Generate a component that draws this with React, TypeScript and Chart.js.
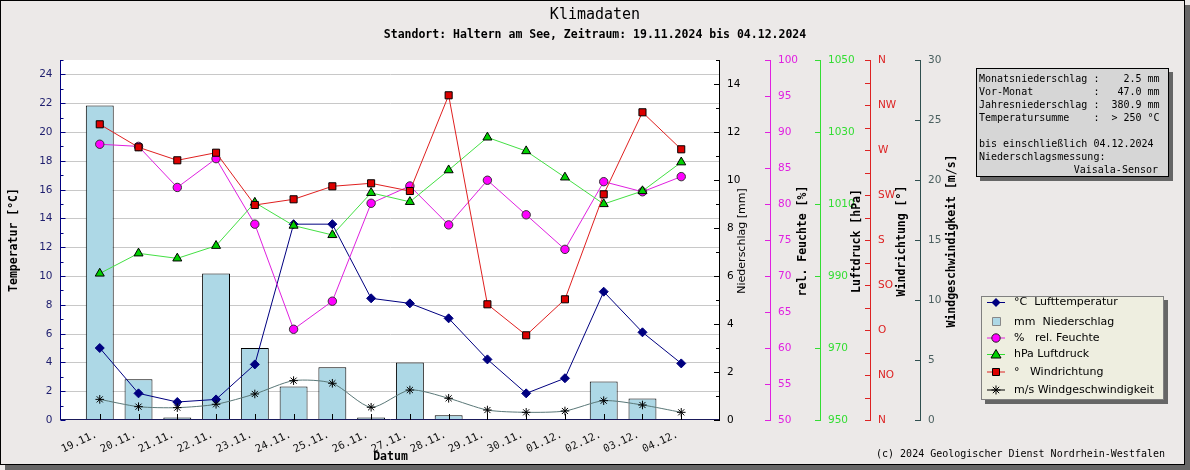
import React, { useEffect, useRef } from 'react';
import { Chart, registerables } from 'chart.js';

Chart.register(...registerables);

// ---------- data ----------
const dates = ['19.11.', '20.11.', '21.11.', '22.11.', '23.11.', '24.11.', '25.11.', '26.11.', '27.11.', '28.11.', '29.11.', '30.11.', '01.12.', '02.12.', '03.12.', '04.12.'];
const temperature = [5.0, 1.85, 1.25, 1.43, 3.86, 13.6, 13.6, 8.45, 8.1, 7.06, 4.21, 1.85, 2.9, 8.91, 6.09, 3.93];
const precipitation = [13.1, 1.7, 0.1, 6.1, 3.0, 1.4, 2.2, 0.1, 2.4, 0.2, 0, 0, 0, 1.6, 0.9, 0];
const humidity = [88.3, 88.0, 82.3, 86.3, 77.2, 62.6, 66.5, 80.1, 82.5, 77.1, 83.3, 78.5, 73.7, 83.1, 81.7, 83.8];
const pressure = [990.7, 996.3, 994.9, 998.4, 1010.4, 1004.0, 1001.4, 1013.1, 1010.6, 1019.4, 1028.5, 1024.7, 1017.4, 1010.0, 1013.6, 1021.6];
const windDirection = [295.7, 272.7, 259.7, 267.3, 215, 220.7, 233.7, 236.7, 229, 324.7, 115.7, 84.7, 120.7, 225.7, 307.7, 270.7];
const windSpeed = [1.72, 1.11, 1.03, 1.31, 2.17, 3.28, 3.06, 1.06, 2.5, 1.81, 0.83, 0.64, 0.75, 1.61, 1.25, 0.64];

// ---------- tick labels ----------
const tempTicks = [0, 2, 4, 6, 8, 10, 12, 14, 16, 18, 20, 22, 24];
const precipTicks = [0, 2, 4, 6, 8, 10, 12, 14];
const humidityTicks = [50, 55, 60, 65, 70, 75, 80, 85, 90, 95, 100];
const pressureTicks = [950, 970, 990, 1010, 1030, 1050];
const windDirLabels = ['N', 'NO', 'O', 'SO', 'S', 'SW', 'W', 'NW', 'N'];
const windSpeedTicks = [0, 5, 10, 15, 20, 25, 30];

// ---------- texts ----------
const titleText = 'Klimadaten';
const subtitleText = 'Standort: Haltern am See, Zeitraum: 19.11.2024 bis 04.12.2024';
const xTitle = 'Datum';
const copyright = '(c) 2024 Geologischer Dienst Nordrhein-Westfalen';
const legendLabels = ['°C  Lufttemperatur', 'mm  Niederschlag', '%   rel. Feuchte', 'hPa Luftdruck', '°   Windrichtung', 'm/s Windgeschwindigkeit'];
const infoLines = [
  'Monatsniederschlag :    2.5 mm',
  'Vor-Monat          :   47.0 mm',
  'Jahresniederschlag :  380.9 mm',
  'Temperatursumme    :  > 250 °C',
  '',
  'bis einschließlich 04.12.2024',
  'Niederschlagsmessung:',
];
const infoLastLine = 'Vaisala-Sensor';

const SANS = '"DejaVu Sans", sans-serif';
const MONO = '"DejaVu Sans Mono", monospace';

const C_TEMP = '#000080';
const C_HUM = '#E020E0';
const C_PRESS = '#33DD33';
const C_DIR = '#DD2222';
const C_SPEED = '#2F4F4F';

const pad = (a: (number | null)[]) => [null, ...a, null];

function line(ctx: CanvasRenderingContext2D, x1: number, y1: number, x2: number, y2: number) {
  ctx.beginPath();
  ctx.moveTo(x1, y1);
  ctx.lineTo(x2, y2);
  ctx.stroke();
}

function vText(ctx: CanvasRenderingContext2D, text: string, x: number, y: number, font: string, color: string) {
  ctx.save();
  ctx.translate(x, y);
  ctx.rotate(-Math.PI / 2);
  ctx.font = font;
  ctx.fillStyle = color;
  ctx.textAlign = 'center';
  ctx.textBaseline = 'middle';
  ctx.fillText(text, 0, 0);
  ctx.restore();
}

function rightAxis(ctx: CanvasRenderingContext2D, chart: any, scale: any, x: number, color: string, labelColor: string,
  ticks: { v: number; len: number; label: string | null }[]) {
  const a = chart.chartArea;
  ctx.strokeStyle = color;
  ctx.lineWidth = 1;
  line(ctx, x + 0.5, a.top, x + 0.5, a.bottom + 1);
  ctx.font = '10.5px ' + SANS;
  ctx.fillStyle = labelColor;
  ctx.textAlign = 'left';
  ctx.textBaseline = 'middle';
  for (const t of ticks) {
    const y = Math.round(scale.getPixelForValue(t.v)) + 0.5;
    line(ctx, x - t.len, y, x + 0.5, y);
    if (t.label !== null) ctx.fillText(t.label, x + 8, y);
  }
}

function marker(ctx: CanvasRenderingContext2D, type: string, x: number, y: number) {
  ctx.save();
  ctx.lineWidth = 1;
  ctx.beginPath();
  if (type === 'diamond') {
    ctx.moveTo(x, y - 4.5); ctx.lineTo(x + 4.5, y); ctx.lineTo(x, y + 4.5); ctx.lineTo(x - 4.5, y); ctx.closePath();
    ctx.fillStyle = C_TEMP; ctx.fill();
  } else if (type === 'bar') {
    ctx.rect(992.5, y - 4.5, 8, 8);
    ctx.fillStyle = '#ADD8E6'; ctx.fill(); ctx.strokeStyle = '#888'; ctx.stroke();
  } else if (type === 'circle') {
    ctx.arc(x, y, 4.2, 0, Math.PI * 2);
    ctx.fillStyle = '#FF00FF'; ctx.fill(); ctx.strokeStyle = '#222'; ctx.stroke();
  } else if (type === 'triangle') {
    ctx.moveTo(x, y - 5); ctx.lineTo(x + 5, y + 3.5); ctx.lineTo(x - 5, y + 3.5); ctx.closePath();
    ctx.fillStyle = '#00D000'; ctx.fill(); ctx.strokeStyle = '#000'; ctx.stroke();
  } else if (type === 'square') {
    ctx.rect(x - 3.5, y - 3.5, 7, 7);
    ctx.fillStyle = '#DD0000'; ctx.fill(); ctx.strokeStyle = '#000'; ctx.stroke();
  } else if (type === 'star') {
    ctx.strokeStyle = '#000';
    const r = 4.5, d = r * Math.SQRT1_2;
    ctx.moveTo(x - r, y); ctx.lineTo(x + r, y);
    ctx.moveTo(x, y - r); ctx.lineTo(x, y + r);
    ctx.moveTo(x - d, y - d); ctx.lineTo(x + d, y + d);
    ctx.moveTo(x - d, y + d); ctx.lineTo(x + d, y - d);
    ctx.stroke();
  }
  ctx.restore();
}

const decor = {
  id: 'decor',
  beforeDraw(chart: any) {
    const ctx: CanvasRenderingContext2D = chart.ctx;
    const a = chart.chartArea;
    ctx.save();
    ctx.fillStyle = '#ECE9E8';
    ctx.fillRect(0, 0, chart.width, chart.height);
    ctx.fillStyle = '#666666';
    ctx.fillRect(1185, 5, 5, 465);
    ctx.fillRect(5, 465, 1185, 5);
    ctx.strokeStyle = '#000';
    ctx.lineWidth = 1;
    ctx.strokeRect(0.5, 0.5, 1184, 464);
    ctx.fillStyle = '#FFFFFF';
    ctx.fillRect(a.left, a.top, a.right - a.left, a.bottom - a.top);
    const yT = chart.scales.yT;
    ctx.strokeStyle = '#C8C8C8';
    for (const v of tempTicks) {
      if (v === 0) continue;
      const y = Math.round(yT.getPixelForValue(v)) + 0.5;
      line(ctx, a.left, y, a.right, y);
    }
    ctx.restore();
  },
  afterDraw(chart: any) {
    const ctx: CanvasRenderingContext2D = chart.ctx;
    const a = chart.chartArea;
    const s = chart.scales;
    ctx.save();

    // titles
    ctx.fillStyle = '#000';
    ctx.textAlign = 'center';
    ctx.textBaseline = 'middle';
    ctx.font = '15px ' + MONO;
    ctx.fillText(titleText, 595, 15);
    ctx.font = 'bold 11.5px ' + MONO;
    ctx.fillText(subtitleText, 595, 35);
    ctx.fillText(xTitle, (a.left + a.right) / 2, 457);
    ctx.font = '10px ' + MONO;
    ctx.textAlign = 'right';
    ctx.fillText(copyright, 1165, 454.5);

    // left axis (temperature)
    const ax = a.left - 0.5;
    ctx.strokeStyle = C_TEMP;
    ctx.lineWidth = 1;
    line(ctx, ax, a.top, ax, a.bottom);
    for (let v = 0; v <= 25; v++) {
      const y = Math.round(s.yT.getPixelForValue(v)) + 0.5;
      line(ctx, ax, y, ax + (v % 2 === 0 ? 5 : 3), y);
    }
    ctx.font = '10.5px ' + SANS;
    ctx.fillStyle = '#1E1E6E';
    ctx.textAlign = 'right';
    ctx.textBaseline = 'middle';
    for (const v of tempTicks) {
      ctx.fillText(String(v), ax - 8, Math.round(s.yT.getPixelForValue(v)) + 0.5);
    }
    vText(ctx, 'Temperatur [°C]', 14, 240, 'bold 11.5px ' + MONO, '#000');

    // bottom axis
    const by = a.bottom - 0.5;
    ctx.strokeStyle = '#1A1A5A';
    line(ctx, ax, by, a.right, by);
    ctx.strokeStyle = '#000';
    ctx.font = '10.5px ' + MONO;
    ctx.fillStyle = '#111';
    dates.forEach((d, i) => {
      const x = Math.round(s.x.getPixelForValue(i + 1)) + 0.5;
      line(ctx, x, a.bottom, x, a.bottom - 6);
      ctx.save();
      ctx.translate(x - 4, 434);
      ctx.rotate(-25 * Math.PI / 180);
      ctx.textAlign = 'right';
      ctx.textBaseline = 'middle';
      ctx.fillText(d, 0, 0);
      ctx.restore();
    });

    // right axes
    const pTicks = [];
    for (let v = 0; v <= 15; v++) pTicks.push({ v, len: v % 2 === 0 ? 5 : 3, label: precipTicks.includes(v) ? String(v) : null });
    rightAxis(ctx, chart, s.yP, a.right - 1, '#000', '#000', pTicks);
    vText(ctx, 'Niederschlag [mm]', 742, 241, '11px ' + SANS, '#000');

    rightAxis(ctx, chart, s.yH, 770, C_HUM, C_HUM, humidityTicks.map(v => ({ v, len: 5, label: String(v) })));
    vText(ctx, 'rel. Feuchte [%]', 803, 241, 'bold 11.5px ' + MONO, '#000');

    rightAxis(ctx, chart, s.yL, 820, C_PRESS, C_PRESS, pressureTicks.map(v => ({ v, len: 5, label: String(v) })));
    vText(ctx, 'Luftdruck [hPa]', 857, 241, 'bold 11.5px ' + MONO, '#000');

    const dTicks = [];
    for (let k = 0; k <= 16; k++) dTicks.push({ v: k * 22.5, len: 5, label: k % 2 === 0 ? windDirLabels[k / 2] : null });
    rightAxis(ctx, chart, s.yD, 870, C_DIR, C_DIR, dTicks);
    vText(ctx, 'Windrichtung [°]', 902, 241, 'bold 11.5px ' + MONO, '#000');

    rightAxis(ctx, chart, s.yW, 920, C_SPEED, '#4A5F5F', windSpeedTicks.map(v => ({ v, len: 5, label: String(v) })));
    vText(ctx, 'Windgeschwindigkeit [m/s]', 952, 241, 'bold 11.5px ' + MONO, '#000');

    // info box
    ctx.fillStyle = '#666666';
    ctx.fillRect(980, 72, 193, 109);
    ctx.fillStyle = '#D6D6D6';
    ctx.fillRect(976, 68, 193, 109);
    ctx.strokeStyle = '#000';
    ctx.strokeRect(976.5, 68.5, 192, 108);
    ctx.fillStyle = '#000';
    ctx.font = '10px ' + MONO;
    ctx.textAlign = 'left';
    ctx.textBaseline = 'middle';
    infoLines.forEach((t, i) => ctx.fillText(t, 979, 79 + i * 13));
    ctx.textAlign = 'right';
    ctx.fillText(infoLastLine, 1158, 170);

    // legend
    ctx.fillStyle = '#666666';
    ctx.fillRect(985, 300, 183, 104);
    ctx.fillStyle = '#EEEEE0';
    ctx.fillRect(981, 296, 183, 104);
    ctx.strokeStyle = '#808080';
    ctx.strokeRect(981.5, 296.5, 182, 103);
    const rows = [
      { y: 302.5, type: 'diamond', color: C_TEMP },
      { y: 322, type: 'bar', color: null },
      { y: 338, type: 'circle', color: C_HUM },
      { y: 354.5, type: 'triangle', color: C_PRESS },
      { y: 372, type: 'square', color: C_DIR },
      { y: 390, type: 'star', color: null },
    ];
    ctx.font = '11px ' + SANS;
    rows.forEach((r, i) => {
      if (r.color) {
        ctx.strokeStyle = r.color;
        line(ctx, 987, r.y, 1005, r.y);
      } else if (r.type === 'star') {
        ctx.strokeStyle = '#000';
        line(ctx, 987, r.y, 1005, r.y);
      }
      marker(ctx, r.type, 996, r.y);
      ctx.fillStyle = '#000';
      ctx.textAlign = 'left';
      ctx.textBaseline = 'middle';
      ctx.fillText(legendLabels[i], 1014, r.y);
    });

    ctx.restore();
  },
};

export default function App() {
  const ref = useRef<HTMLCanvasElement>(null);
  useEffect(() => {
    document.body.style.margin = '0';
    const labels = ['', ...dates, ''];
    const chart = new Chart(ref.current as HTMLCanvasElement, {
      type: 'bar',
      data: {
        labels,
        datasets: [
          {
            type: 'bar', label: 'Niederschlag', data: pad(precipitation), yAxisID: 'yP', order: 6,
            backgroundColor: '#ADD8E6', borderColor: '#000', borderWidth: 1, borderSkipped: false,
            barPercentage: 0.72, categoryPercentage: 1.0,
          },
          {
            type: 'line', label: 'Lufttemperatur', data: pad(temperature), yAxisID: 'yT', order: 5,
            borderColor: C_TEMP, borderWidth: 1, pointStyle: 'rectRot', pointRadius: 4.5,
            pointBackgroundColor: C_TEMP, pointBorderColor: C_TEMP, pointBorderWidth: 1, tension: 0,
          },
          {
            type: 'line', label: 'rel. Feuchte', data: pad(humidity), yAxisID: 'yH', order: 4,
            borderColor: C_HUM, borderWidth: 1, pointStyle: 'circle', pointRadius: 4.2,
            pointBackgroundColor: '#FF00FF', pointBorderColor: '#333', pointBorderWidth: 1, tension: 0,
          },
          {
            type: 'line', label: 'Luftdruck', data: pad(pressure), yAxisID: 'yL', order: 3,
            borderColor: '#44E044', borderWidth: 1, pointStyle: 'triangle', pointRadius: 5.2,
            pointBackgroundColor: '#00D000', pointBorderColor: '#000', pointBorderWidth: 1, tension: 0,
          },
          {
            type: 'line', label: 'Windrichtung', data: pad(windDirection), yAxisID: 'yD', order: 2,
            borderColor: '#E02020', borderWidth: 1, pointStyle: 'rect', pointRadius: 5,
            pointBackgroundColor: '#DD0000', pointBorderColor: '#000', pointBorderWidth: 1, tension: 0,
          },
          {
            type: 'line', label: 'Windgeschwindigkeit', data: pad(windSpeed), yAxisID: 'yW', order: 1,
            borderColor: '#5A7878', borderWidth: 1, pointStyle: 'star', pointRadius: 4.3,
            pointBackgroundColor: '#000', pointBorderColor: '#000', pointBorderWidth: 1, tension: 0.25,
          },
        ] as any,
      },
      options: {
        responsive: false,
        animation: false,
        devicePixelRatio: 1,
        layout: { padding: { left: 61, right: 470, top: 60, bottom: 50 } },
        plugins: { legend: { display: false }, tooltip: { enabled: false }, title: { display: false } },
        scales: {
          x: { type: 'category', display: false, offset: false },
          yT: { type: 'linear', display: false, min: 0, max: 25, position: 'left' },
          yP: { type: 'linear', display: false, min: 0, max: 15, position: 'right' },
          yH: { type: 'linear', display: false, min: 50, max: 100, position: 'right' },
          yL: { type: 'linear', display: false, min: 950, max: 1050, position: 'right' },
          yD: { type: 'linear', display: false, min: 0, max: 360, position: 'right' },
          yW: { type: 'linear', display: false, min: 0, max: 30, position: 'right' },
        },
      } as any,
      plugins: [decor],
    });
    return () => chart.destroy();
  }, []);
  return <canvas ref={ref} width={1190} height={470} style={{ display: 'block', width: 1190, height: 470 }} />;
}
